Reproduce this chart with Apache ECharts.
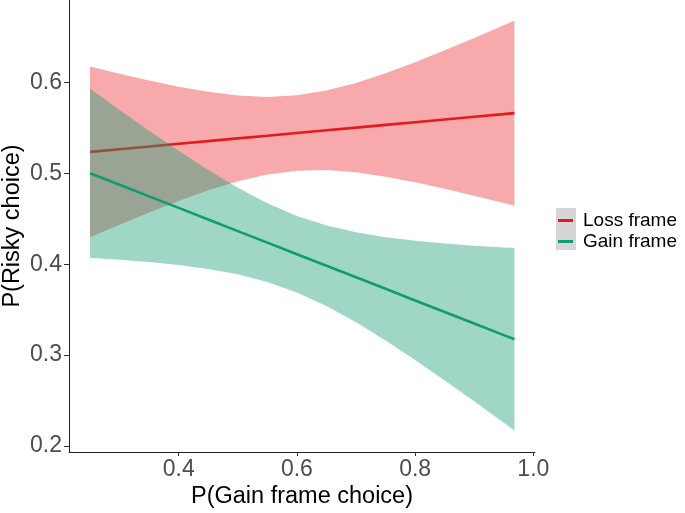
<!DOCTYPE html>
<html>
<head>
<meta charset="utf-8">
<script src="https://cdn.jsdelivr.net/npm/echarts@6/dist/echarts.min.js"></script>
<style>
html,body{margin:0;padding:0;background:#fff;}
#chart{width:685px;height:513px;}
</style>
</head>
<body>
<div id="chart"></div>
<script>
// ---- data ----
const xVals     = [0.25, 0.30, 0.35, 0.40, 0.45, 0.50, 0.55, 0.60, 0.65, 0.70, 0.75, 0.80, 0.85, 0.90, 0.95, 0.968];
const lossFit   = [0.5235, 0.5265, 0.5294, 0.5324, 0.5354, 0.5384, 0.5413, 0.5443, 0.5473, 0.5502, 0.5532, 0.5562, 0.5591, 0.5621, 0.5651, 0.5662];
const lossUpper = [0.6175, 0.6096, 0.6020, 0.5953, 0.5896, 0.5855, 0.5839, 0.5857, 0.5911, 0.5994, 0.6101, 0.6222, 0.6352, 0.6488, 0.6628, 0.6680];
const lossLower = [0.4295, 0.4434, 0.4568, 0.4695, 0.4812, 0.4913, 0.4987, 0.5029, 0.5035, 0.5010, 0.4963, 0.4902, 0.4830, 0.4754, 0.4674, 0.4644];
const gainFit   = [0.5000, 0.4873, 0.4746, 0.4619, 0.4491, 0.4364, 0.4237, 0.4110, 0.3983, 0.3856, 0.3729, 0.3601, 0.3474, 0.3347, 0.3220, 0.3174];
const gainUpper = [0.5930, 0.5697, 0.5468, 0.5247, 0.5035, 0.4840, 0.4670, 0.4531, 0.4426, 0.4351, 0.4297, 0.4257, 0.4227, 0.4203, 0.4184, 0.4177];
const gainLower = [0.4070, 0.4049, 0.4024, 0.3991, 0.3947, 0.3888, 0.3804, 0.3689, 0.3540, 0.3361, 0.3161, 0.2945, 0.2721, 0.2491, 0.2256, 0.2171];
const xTicks = [0.4, 0.6, 0.8, 1.0];
const yTicks = [0.2, 0.3, 0.4, 0.5, 0.6];
const seriesNames = ['Loss frame', 'Gain frame'];

const pairs = (ys) => xVals.map((x, i) => [x, ys[i]]);

const RED = '#E41A1C', GREEN = '#109C71';
const FONT = '"Liberation Sans", Arial, Helvetica, sans-serif';

// ribbon drawn as a polygon through the library's coordinate system
function ribbon(upper, lower, fill, z) {
  return {
    type: 'custom', silent: true, z: z,
    data: [0],
    renderItem: (params, api) => {
      const pts = [];
      for (let i = 0; i < xVals.length; i++) pts.push(api.coord([xVals[i], upper[i]]));
      for (let i = xVals.length - 1; i >= 0; i--) pts.push(api.coord([xVals[i], lower[i]]));
      return {type: 'polygon', shape: {points: pts}, style: {fill: fill, stroke: null}};
    },
    clip: true
  };
}

const chart = echarts.init(document.getElementById('chart'), null, {renderer: 'canvas'});
chart.setOption({
  animation: false,
  backgroundColor: '#ffffff',
  grid: {left: 69, right: 150, top: 0, bottom: 61, containLabel: false, outerBoundsMode: 'none'},
  xAxis: {
    type: 'value', min: 0.2144, max: 1.0028,
    name: 'P(Gain frame choice)', nameLocation: 'middle', nameGap: 33, nameMoveOverlap: false,
    nameTextStyle: {color: '#000', fontSize: 23.5, fontFamily: FONT},
    axisLine: {show: true, onZero: false, lineStyle: {color: '#222', width: 1}},
    axisTick: {show: true, length: 4, customValues: xTicks, lineStyle: {color: '#333'}},
    axisLabel: {customValues: xTicks, color: '#4D4D4D', fontSize: 23, fontFamily: FONT, margin: 6,
      formatter: v => v.toFixed(1)},
    splitLine: {show: false}
  },
  yAxis: {
    type: 'value', min: 0.1934, max: 0.6906,
    name: 'P(Risky choice)', nameLocation: 'middle', nameGap: 44, nameRotate: 90, nameMoveOverlap: false,
    nameTextStyle: {color: '#000', fontSize: 23.5, fontFamily: FONT},
    axisLine: {show: true, onZero: false, lineStyle: {color: '#222', width: 1}},
    axisTick: {show: true, length: 5, customValues: yTicks, lineStyle: {color: '#333'}},
    axisLabel: {customValues: yTicks, color: '#4D4D4D', fontSize: 23, fontFamily: FONT, margin: 7,
      formatter: v => v.toFixed(1)},
    splitLine: {show: false}
  },
  legend: {
    orient: 'vertical', left: 558, top: 210, padding: 0,
    data: seriesNames.map(n => ({name: n, icon: 'rect'})),
    itemWidth: 15, itemHeight: 3, itemGap: 0,
    textStyle: {color: '#000', fontSize: 19, fontFamily: FONT, lineHeight: 21, padding: [0, 0, 0, 5]},
    selectedMode: false
  },
  graphic: [{
    type: 'rect', left: 556, top: 208, z: -1,
    shape: {width: 20, height: 42},
    style: {fill: '#D6D6D6'}
  }],
  series: [
    ribbon(lossUpper, lossLower, 'rgba(235,30,35,0.38)', 1),
    {name: 'Loss frame', type: 'line', z: 2, data: pairs(lossFit), symbol: 'none',
      lineStyle: {color: RED, width: 2.6}, itemStyle: {color: RED}},
    ribbon(gainUpper, gainLower, 'rgba(27,158,119,0.42)', 3),
    {name: 'Gain frame', type: 'line', z: 4, data: pairs(gainFit), symbol: 'none',
      lineStyle: {color: GREEN, width: 2.6}, itemStyle: {color: GREEN}}
  ]
});
</script>
</body>
</html>
